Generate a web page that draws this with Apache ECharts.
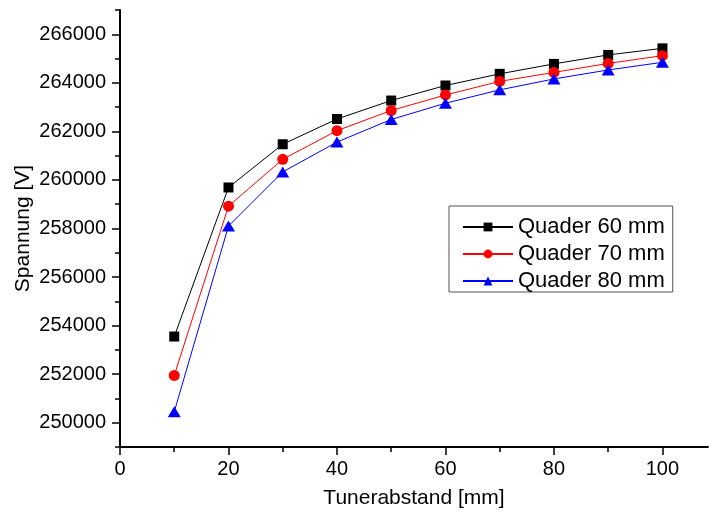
<!DOCTYPE html>
<html>
<head>
<meta charset="utf-8">
<script src="https://cdn.jsdelivr.net/npm/echarts@6/dist/echarts.min.js"></script>
<style>html,body{margin:0;padding:0;background:#fff}#c{width:709px;height:517px}</style>
</head>
<body>
<div id="c"></div>
<script>
const xValues = [10, 20, 30, 40, 50, 60, 70, 80, 90, 100];
const quader60 = [253550, 259690, 261470, 262510, 263270, 263890, 264370, 264780, 265150, 265420];
const quader70 = [251950, 258920, 260850, 262030, 262860, 263500, 264060, 264430, 264800, 265120];
const quader80 = [250450, 258100, 260330, 261560, 262490, 263160, 263710, 264160, 264530, 264845];
const seriesNames = ['Quader 60 mm', 'Quader 70 mm', 'Quader 80 mm'];
const xMajorTicks = [0, 20, 40, 60, 80, 100];
const xMinorTicks = [10, 30, 50, 70, 90];
const yMajorTicks = [250000, 252000, 254000, 256000, 258000, 260000, 262000, 264000, 266000];
const yMinorTicks = [249000, 251000, 253000, 255000, 257000, 259000, 261000, 263000, 265000, 267000];

const FONT = 'Liberation Sans';
const pairs = arr => xValues.map((x, i) => [x, arr[i]]);
const plain = v => String(v);

const chart = echarts.init(document.getElementById('c'), null, {renderer: 'canvas'});
const X_MIN = 0, X_MAX = 108.4, Y_MIN = 249000, Y_MAX = 267000;

chart.setOption({
  animation: false,
  backgroundColor: '#ffffff',
  grid: {left: 120, right: 1, top: 10, bottom: 70, containLabel: false, outerBoundsMode: 'none'},
  legend: {
    left: 449, top: 206,
    orient: 'vertical',
    data: seriesNames,
    itemWidth: 50, itemHeight: 11, itemGap: 5,
    padding: [10, 8, 0, 13],
    borderColor: '#555', borderWidth: 1,
    textStyle: {fontFamily: FONT, fontSize: 22, color: '#000', lineHeight: 21}
  },
  xAxis: [{
    type: 'value', min: X_MIN, max: X_MAX, interval: 10,
    name: 'Tunerabstand [mm]', nameLocation: 'middle', nameGap: 41, nameMoveOverlap: false,
    nameTextStyle: {fontFamily: FONT, fontSize: 21, color: '#000'},
    splitLine: {show: false},
    axisLine: {show: true, onZero: false, lineStyle: {color: '#000', width: 2}},
    axisTick: {show: true, inside: false, length: 8, customValues: xMajorTicks, lineStyle: {color: '#000', width: 1.5}},
    axisLabel: {show: true, customValues: xMajorTicks, formatter: plain, margin: 12, fontFamily: FONT, fontSize: 20, color: '#000'}
  }, {
    type: 'value', min: X_MIN, max: X_MAX, position: 'bottom', offset: 0,
    splitLine: {show: false},
    axisLine: {show: false},
    axisTick: {show: true, inside: false, length: 5, customValues: xMinorTicks, lineStyle: {color: '#000', width: 1.5}},
    axisLabel: {show: false}
  }],
  yAxis: [{
    type: 'value', min: Y_MIN, max: Y_MAX, interval: 1000,
    name: 'Spannung [V]', nameLocation: 'middle', nameGap: 86, nameRotate: 90, nameMoveOverlap: false,
    nameTextStyle: {fontFamily: FONT, fontSize: 21, color: '#000'},
    splitLine: {show: false},
    axisLine: {show: true, onZero: false, lineStyle: {color: '#000', width: 2}},
    axisTick: {show: true, inside: false, length: 8, customValues: yMajorTicks, lineStyle: {color: '#000', width: 1.5}},
    axisLabel: {show: true, customValues: yMajorTicks, formatter: plain, margin: 14, fontFamily: FONT, fontSize: 20, color: '#000'}
  }, {
    type: 'value', min: Y_MIN, max: Y_MAX, position: 'left', offset: 0,
    splitLine: {show: false},
    axisLine: {show: false},
    axisTick: {show: true, inside: false, length: 5, customValues: yMinorTicks, lineStyle: {color: '#000', width: 1.5}},
    axisLabel: {show: false}
  }],
  series: [
    {name: seriesNames[0], type: 'line', data: pairs(quader60), symbol: 'rect', symbolSize: 10,
     color: '#000000', lineStyle: {color: '#000000', width: 1}, itemStyle: {color: '#000000'}},
    {name: seriesNames[1], type: 'line', data: pairs(quader70), symbol: 'circle', symbolSize: 11,
     color: '#ff0000', lineStyle: {color: '#ff0000', width: 1}, itemStyle: {color: '#ff0000'}},
    {name: seriesNames[2], type: 'line', data: pairs(quader80), symbol: 'triangle', symbolSize: [13, 11],
     color: '#0000ff', lineStyle: {color: '#0000ff', width: 1}, itemStyle: {color: '#0000ff'}}
  ]
});
</script>
</body>
</html>
